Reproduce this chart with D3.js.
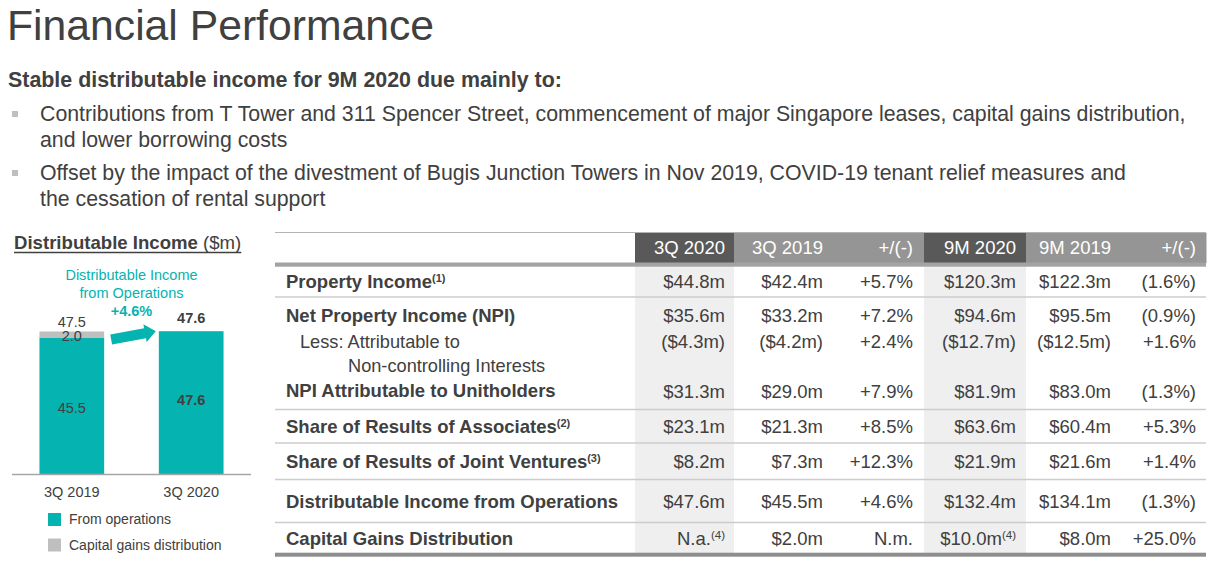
<!DOCTYPE html>
<html>
<head>
<meta charset="utf-8">
<script src="https://cdn.jsdelivr.net/npm/d3@7/dist/d3.min.js"></script>
<style>
	body { margin: 0; background: #fff; }
	svg text { font-family: "Liberation Sans", Arial, sans-serif; fill: #404040; }
</style>
</head>
<body>
<svg id="slide" width="1218" height="567"></svg>
<script>

// ---- bar chart data ----
var categories = [ '3Q 2019', '3Q 2020' ];
var fromOperations = [ 45.5, 47.6 ];
var capitalGains = [ 2.0, 0 ];
var totals = [ 47.5, 47.6 ];
var growthLabel = '+4.6%';
var legendLabels = [ 'From operations', 'Capital gains distribution' ];

// ---- table data ----
var columnHeads = [ '3Q 2020', '3Q 2019', '+/(-)', '9M 2020', '9M 2019', '+/(-)' ];
var rowLabels = [
	'Property Income',
	'Net Property Income (NPI)',
	'Less: Attributable to\nNon-controlling Interests',
	'NPI Attributable to Unitholders',
	'Share of Results of Associates',
	'Share of Results of Joint Ventures',
	'Distributable Income from Operations',
	'Capital Gains Distribution'
];
var rowNotes = [ '(1)', '', '', '', '(2)', '(3)', '', '' ];
var q3Of2020 = [ '$44.8m', '$35.6m', '($4.3m)', '$31.3m', '$23.1m', '$8.2m', '$47.6m', 'N.a.^(4)' ];
var q3Of2019 = [ '$42.4m', '$33.2m', '($4.2m)', '$29.0m', '$21.3m', '$7.3m', '$45.5m', '$2.0m' ];
var q3Change = [ '+5.7%', '+7.2%', '+2.4%', '+7.9%', '+8.5%', '+12.3%', '+4.6%', 'N.m.' ];
var m9Of2020 = [ '$120.3m', '$94.6m', '($12.7m)', '$81.9m', '$63.6m', '$21.9m', '$132.4m', '$10.0m^(4)' ];
var m9Of2019 = [ '$122.3m', '$95.5m', '($12.5m)', '$83.0m', '$60.4m', '$21.6m', '$134.1m', '$8.0m' ];
var m9Change = [ '(1.6%)', '(0.9%)', '+1.6%', '(1.3%)', '+5.3%', '+1.4%', '(1.3%)', '+25.0%' ];

// ---- slide text ----
var title = 'Financial Performance';
var subtitle = 'Stable distributable income for 9M 2020 due mainly to:';
var bullets = [
	[ 'Contributions from T Tower and 311 Spencer Street, commencement of major Singapore leases, capital gains distribution,', 'and lower borrowing costs' ],
	[ 'Offset by the impact of the divestment of Bugis Junction Towers in Nov 2019, COVID-19 tenant relief measures and', 'the cessation of rental support' ]
];

var teal = '#05b3b0';
var greyBar = '#bfbfbf';
var ink = '#404040';

var svg = d3.select( '#slide' );

// ---- header text ----
svg.append( 'text' )
	.attr( 'x', 7 ).attr( 'y', 40 )
	.style( 'font-size', '42.7px' )
	.text( title );

svg.append( 'text' )
	.attr( 'x', 8 ).attr( 'y', 87 )
	.style( 'font-size', '21.4px' ).style( 'font-weight', 'bold' )
	.text( subtitle );

bullets.forEach( function ( lines, i ) {
	var top = 121 + i * 59;
	svg.append( 'rect' )
		.attr( 'x', 12 ).attr( 'y', top - 10 )
		.attr( 'width', 6 ).attr( 'height', 6 )
		.style( 'fill', '#bfbfbf' );
	lines.forEach( function ( line, j ) {
		svg.append( 'text' )
			.attr( 'x', 40 ).attr( 'y', top + j * 26 )
			.style( 'font-size', '21.3px' )
			.text( line );
	} );
} );

// ---- bar chart ----
var chartTitle = svg.append( 'text' )
	.attr( 'x', 14 ).attr( 'y', 249 )
	.style( 'font-size', '18.6px' );
chartTitle.append( 'tspan' ).style( 'font-weight', 'bold' ).text( 'Distributable Income' );
chartTitle.append( 'tspan' ).text( ' ($m)' );
var titleWidth = chartTitle.node().getComputedTextLength();
svg.append( 'line' )
	.attr( 'x1', 14 ).attr( 'x2', 14 + titleWidth )
	.attr( 'y1', 252.5 ).attr( 'y2', 252.5 )
	.style( 'stroke', ink ).style( 'stroke-width', 1.3 );

var x = d3.scaleBand()
	.domain( categories )
	.range( [ 12, 251 ] )
	.paddingInner( 0.458 )
	.paddingOuter( 0.23 );

var y = d3.scaleLinear()
	.domain( [ 0, 50 ] )
	.range( [ 474, 324 ] );

var bars = svg.append( 'g' );

bars.selectAll( 'rect.ops' )
	.data( categories )
	.enter()
	.append( 'rect' )
	.classed( 'ops', true )
	.attr( 'x', function ( d ) { return x( d ); } )
	.attr( 'width', x.bandwidth() )
	.attr( 'y', function ( d, i ) { return y( fromOperations[i] ); } )
	.attr( 'height', function ( d, i ) { return y( 0 ) - y( fromOperations[i] ); } )
	.style( 'fill', teal );

bars.selectAll( 'rect.gains' )
	.data( categories )
	.enter()
	.append( 'rect' )
	.classed( 'gains', true )
	.attr( 'x', function ( d ) { return x( d ); } )
	.attr( 'width', x.bandwidth() )
	.attr( 'y', function ( d, i ) { return y( fromOperations[i] + capitalGains[i] ); } )
	.attr( 'height', function ( d, i ) { return y( 0 ) - y( capitalGains[i] ); } )
	.style( 'fill', greyBar );

// baseline
svg.append( 'line' )
	.attr( 'x1', 12 ).attr( 'x2', 251 )
	.attr( 'y1', y( 0 ) + 0.5 ).attr( 'y2', y( 0 ) + 0.5 )
	.style( 'stroke', '#a6a6a6' ).style( 'stroke-width', 1.5 );

var mid = function ( i ) { return x( categories[i] ) + x.bandwidth() / 2; };

// value labels
categories.forEach( function ( c, i ) {
	var bold = i === 1;
	svg.append( 'text' )
		.attr( 'x', mid( i ) ).attr( 'y', ( y( 0 ) + y( fromOperations[i] ) ) / 2 + ( bold ? -3 : 2 ) )
		.attr( 'dy', '0.35em' )
		.attr( 'text-anchor', 'middle' )
		.style( 'font-size', '14.5px' )
		.style( 'font-weight', bold ? 'bold' : 'normal' )
		.text( d3.format( '.1f' )( fromOperations[i] ) );
	svg.append( 'text' )
		.attr( 'x', mid( i ) ).attr( 'y', y( totals[i] ) - ( bold ? 13 : 10 ) )
		.attr( 'dy', '0.35em' )
		.attr( 'text-anchor', 'middle' )
		.style( 'font-size', '14.5px' )
		.style( 'font-weight', bold ? 'bold' : 'normal' )
		.text( d3.format( '.1f' )( totals[i] ) );
	if ( capitalGains[i] > 0 ) {
		svg.append( 'text' )
			.attr( 'x', mid( i ) ).attr( 'y', y( totals[i] ) + 4 )
			.attr( 'dy', '0.35em' )
			.attr( 'text-anchor', 'middle' )
			.style( 'font-size', '14.5px' )
			.text( d3.format( '.1f' )( capitalGains[i] ) );
	}
	svg.append( 'text' )
		.attr( 'x', mid( i ) ).attr( 'y', 492 )
		.attr( 'dy', '0.35em' )
		.attr( 'text-anchor', 'middle' )
		.style( 'font-size', '14.5px' )
		.text( c );
} );

// growth annotation
var noteX = ( x( categories[0] ) + x.bandwidth() + x( categories[1] ) ) / 2;
[ 'Distributable Income', 'from Operations' ].forEach( function ( t, i ) {
	svg.append( 'text' )
		.attr( 'x', noteX ).attr( 'y', 275 + i * 18 )
		.attr( 'dy', '0.35em' )
		.attr( 'text-anchor', 'middle' )
		.style( 'font-size', '14.5px' )
		.style( 'fill', teal )
		.text( t );
} );
svg.append( 'text' )
	.attr( 'x', noteX ).attr( 'y', 311 )
	.attr( 'dy', '0.35em' )
	.attr( 'text-anchor', 'middle' )
	.style( 'font-size', '14.5px' ).style( 'font-weight', 'bold' )
	.style( 'fill', teal )
	.text( growthLabel );

// arrow from one bar top to the next
var ax0 = x( categories[0] ) + x.bandwidth() + 7;
var ay0 = y( fromOperations[0] ) + 2;
var ax1 = x( categories[1] ) - 3;
var ay1 = y( fromOperations[1] );
var len = Math.sqrt( ( ax1 - ax0 ) * ( ax1 - ax0 ) + ( ay1 - ay0 ) * ( ay1 - ay0 ) );
var ang = Math.atan2( ay1 - ay0, ax1 - ax0 ) * 180 / Math.PI;
svg.append( 'polygon' )
	.attr( 'points', [ [ 0, -5 ], [ len - 11, -5 ], [ len - 11, -9 ], [ len, 0 ], [ len - 11, 9 ], [ len - 11, 5 ], [ 0, 5 ] ].join( ' ' ) )
	.attr( 'transform', 'translate(' + ax0 + ',' + ay0 + ') rotate(' + ang + ')' )
	.style( 'fill', teal );

// legend
var legendColors = [ teal, greyBar ];
legendLabels.forEach( function ( l, i ) {
	svg.append( 'rect' )
		.attr( 'x', 48 ).attr( 'y', 513 + i * 25.5 )
		.attr( 'width', 13 ).attr( 'height', 13 )
		.style( 'fill', legendColors[i] );
	svg.append( 'text' )
		.attr( 'x', 69 ).attr( 'y', 519.5 + i * 25.5 )
		.attr( 'dy', '0.35em' )
		.style( 'font-size', '14px' )
		.text( l );
} );

// ---- table ----
var columns = [ q3Of2020, q3Of2019, q3Change, m9Of2020, m9Of2019, m9Change ];
var colIdx = d3.range( columns.length );
var rowIdx = d3.range( rowLabels.length );
var colLeft = d3.scaleOrdinal().domain( colIdx ).range( [ 635, 734, 829, 924, 1026, 1121 ] );
var colRight = d3.scaleOrdinal().domain( colIdx ).range( [ 734, 829, 924, 1026, 1121, 1206 ] );
var textRight = d3.scaleOrdinal().domain( colIdx ).range( [ 725, 823, 913, 1016, 1111, 1196 ] );
var rowY = d3.scaleOrdinal().domain( rowIdx ).range( [ 282, 315.5, 341.5, 392, 426.5, 461.5, 502, 538.5 ] );
var tableLeft = 275, tableRight = 1206;
var isCurrent = function ( i ) { return i === 0 || i === 3; };

var table = svg.append( 'g' );

// current-period column shading
table.selectAll( 'rect.shade' )
	.data( colIdx.filter( isCurrent ) )
	.enter()
	.append( 'rect' )
	.attr( 'x', colLeft ).attr( 'width', function ( i ) { return colRight( i ) - colLeft( i ); } )
	.attr( 'y', 266 ).attr( 'height', 288 )
	.style( 'fill', '#efefef' );

// header cells
table.selectAll( 'rect.head' )
	.data( colIdx )
	.enter()
	.append( 'rect' )
	.attr( 'x', colLeft ).attr( 'width', function ( i ) { return colRight( i ) - colLeft( i ) + 0.5; } )
	.attr( 'y', 233 ).attr( 'height', 30 )
	.style( 'fill', function ( i ) { return isCurrent( i ) ? '#595959' : '#959595'; } );

table.selectAll( 'text.head' )
	.data( colIdx )
	.enter()
	.append( 'text' )
	.attr( 'x', textRight ).attr( 'y', 248 )
	.attr( 'dy', '0.35em' )
	.attr( 'text-anchor', 'end' )
	.style( 'font-size', '18.5px' )
	.style( 'fill', '#fff' )
	.text( function ( i ) { return columnHeads[i]; } );

// rules
table.append( 'line' )
	.attr( 'x1', tableLeft ).attr( 'x2', tableRight ).attr( 'y1', 232.5 ).attr( 'y2', 232.5 )
	.style( 'stroke', '#b4b4b4' ).style( 'stroke-width', 1.2 );
table.append( 'rect' )
	.attr( 'x', tableLeft ).attr( 'width', tableRight - tableLeft ).attr( 'y', 262.5 ).attr( 'height', 4.2 )
	.style( 'fill', '#a3a3a3' );
var separatorY = [ 297, 409.5, 443, 479.5, 522.5 ];
table.selectAll( 'line.sep' )
	.data( separatorY )
	.enter()
	.append( 'line' )
	.attr( 'x1', tableLeft ).attr( 'x2', tableRight )
	.attr( 'y1', function ( d ) { return d; } )
	.attr( 'y2', function ( d ) { return d; } )
	.style( 'stroke', '#cccccc' ).style( 'stroke-width', 1.5 );
table.append( 'rect' )
	.attr( 'x', tableLeft ).attr( 'width', tableRight - tableLeft ).attr( 'y', 552.7 ).attr( 'height', 4 )
	.style( 'fill', '#8e8e8e' );

// row labels
rowIdx.forEach( function ( r ) {
	var parts = rowLabels[r].split( '\n' );
	var sub = parts.length > 1;
	parts.forEach( function ( p, j ) {
		var t = table.append( 'text' )
			.attr( 'x', sub ? ( j === 0 ? 300 : 348 ) : 286 )
			.attr( 'y', rowY( r ) + j * 24 - ( r === 3 ? 1.5 : 0 ) )
			.attr( 'dy', '0.35em' )
			.style( 'font-size', sub ? '18.2px' : '18.5px' )
			.style( 'font-weight', sub ? 'normal' : 'bold' );
		t.append( 'tspan' ).text( p );
		if ( rowNotes[r] && j === 0 ) {
			t.append( 'tspan' )
				.attr( 'dy', -6 )
				.style( 'font-size', '11px' )
				.text( rowNotes[r] );
		}
	} );
} );

// values
colIdx.forEach( function ( c ) {
	rowIdx.forEach( function ( r ) {
		var parts = columns[c][r].split( '^' );
		var t = table.append( 'text' )
			.attr( 'x', textRight( c ) )
			.attr( 'y', rowY( r ) )
			.attr( 'dy', '0.35em' )
			.attr( 'text-anchor', 'end' )
			.style( 'font-size', '18.5px' );
		t.append( 'tspan' ).text( parts[0] );
		if ( parts[1] ) {
			t.append( 'tspan' )
				.attr( 'dy', -6 )
				.style( 'font-size', '11.5px' )
				.text( parts[1] );
		}
	} );
} );

</script>
</body>
</html>
